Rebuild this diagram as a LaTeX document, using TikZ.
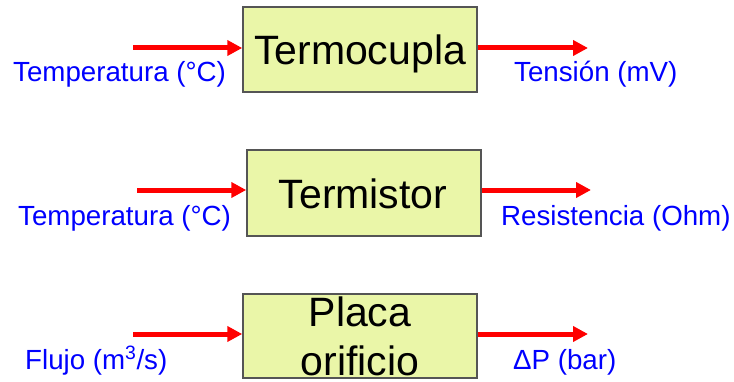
\documentclass[tikz,border=0pt]{standalone}
\usepackage{fontspec}
\setmainfont{Liberation Sans}
\usetikzlibrary{arrows.meta}
\definecolor{boxfill}{RGB}{234,246,168}
\definecolor{boxline}{RGB}{85,85,85}
\definecolor{sigred}{RGB}{255,0,0}
\definecolor{sigblue}{RGB}{0,0,255}
\tikzset{
  blockbox/.style={draw=boxline, line width=1.5pt, fill=boxfill, minimum width=234pt, inner sep=0pt},
  blocktext/.style={anchor=base, inner sep=0pt, font=\fontsize{41}{50}\selectfont},
  siglabel/.style={anchor=base west, inner sep=0pt, text=sigblue, font=\fontsize{27.7}{32}\selectfont},
  sigarrow/.style={draw=sigred, line width=5pt, -{Triangle[length=15pt,width=15pt]}},
}
\begin{document}
\begin{tikzpicture}[x=1pt,y=1pt]
\useasboundingbox (0,0) rectangle (734,381);
% boxes
\node[blockbox, minimum height=85pt] (b1) at (360,331.5) {};
\node[blockbox, minimum height=86pt] (b2) at (364,188) {};
\node[blockbox, minimum height=84pt] (b3) at (360,45) {};
% box texts
\node[blocktext] (t1) at (360,316) {Termocupla};
\node[blocktext] (t2) at (363,173) {Termistor};
\node[blocktext] (t3a) at (360,55) {Placa};
\node[blocktext] (t3b) at (360,6) {orificio};
% arrow ends
\coordinate (i1) at (133,333);
\coordinate (o1) at (588,333);
\coordinate (i2) at (137,191);
\coordinate (o2) at (591,191);
\coordinate (i3) at (133,47);
\coordinate (o3) at (588,47);
\draw[sigarrow] (i1) -- (i1 -| b1.west);
\draw[sigarrow] (o1 -| b1.east) -- (o1);
\draw[sigarrow] (i2) -- (i2 -| b2.west);
\draw[sigarrow] (o2 -| b2.east) -- (o2);
\draw[sigarrow] (i3) -- (i3 -| b3.west);
\draw[sigarrow] (o3 -| b3.east) -- (o3);
% labels
\node[siglabel] (l1) at (13,299) {Temperatura (°C)};
\node[siglabel] (r1) at (514,299) {Tensión (mV)};
\node[siglabel] (l2) at (18,156) {Temperatura (°C)};
\node[siglabel] (r2) at (501,156) {Resistencia (Ohm)};
\node[siglabel] (l3) at (25,12) {Flujo (m\textsuperscript{3}/s)};
\node[siglabel] (r3) at (513,12) {ΔP (bar)};
\end{tikzpicture}
\end{document}
